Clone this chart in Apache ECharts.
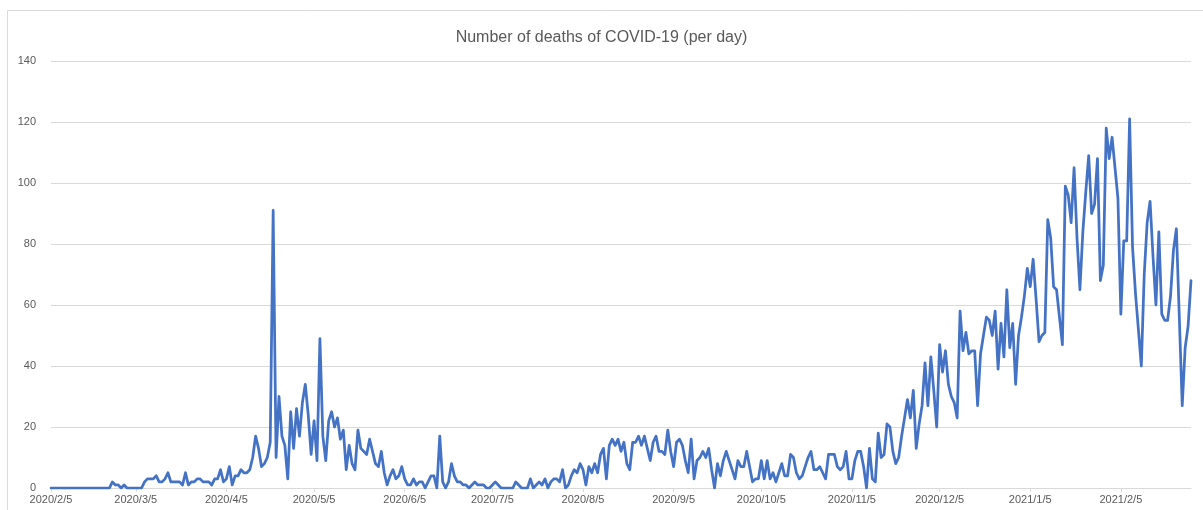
<!DOCTYPE html>
<html>
<head>
<meta charset="utf-8">
<script src="https://cdn.jsdelivr.net/npm/echarts@6/dist/echarts.min.js"></script>
<style>
html,body{margin:0;padding:0;background:#fff;}
#chart{width:1203px;height:510px;}
</style>
</head>
<body>
<div id="chart"></div>
<script>
// Daily values starting 2020/2/5
const startDate = '2020/2/5';
const deaths = [
  0,0,0,0,0,0,0,0,0,0, 0,0,0,0,0,0,0,0,0,0,
  0,2,1,1,0,1,0,0,0,0, 0,0,2,3,3,3,4,2,2,3,
  5,2,2,2,2,1,5,1,2,2, 3,3,2,2,2,1,3,3,6,2,
  3,7,1,4,4,6,5,5,6,10, 17,13,7,8,10,15,91,10,30,17,
  14,3,25,13,26,17,28,34,24,11, 22,9,49,17,9,22,25,20,23,16,
  19,6,14,8,6,19,13,12,11,16, 12,8,7,12,5,1,4,6,3,4,
  7,3,1,1,3,1,2,2,0,2, 4,4,0,17,2,0,2,8,4,2,
  2,1,1,0,1,2,1,1,1,0, 0,1,2,1,0,0,0,0,0,2,
  1,0,0,0,3,0,1,2,1,3, 0,2,3,3,2,6,0,1,4,6,
  5,8,6,1,7,5,8,5,11,13, 3,14,16,14,16,12,15,8,6,15,
  15,17,14,17,13,9,15,17,12,12, 11,19,12,7,15,16,14,9,5,16,
  3,9,10,12,10,13,6,0,8,4, 9,12,9,6,3,9,7,7,12,7,
  2,3,3,9,3,9,3,5,2,5, 8,4,4,11,10,5,3,4,7,10,
  12,6,6,7,5,3,11,11,11,7, 6,7,12,3,3,9,12,12,7,0,
  13,3,2,18,10,11,21,20,12,8, 10,17,23,29,23,32,13,21,27,41,
  27,43,32,20,47,38,45,34,30,28, 23,58,45,51,44,45,45,27,44,50,
  56,55,50,58,39,54,43,65,46,54, 34,50,56,63,72,66,75,62,48,50,
  51,88,82,66,65,56,47,99,96,87, 105,82,65,84,97,109,90,93,108,68,
  73,118,108,115,105,95,57,81,81,121, 79,64,52,40,70,87,94,76,60,84,
  57,55,55,63,78,85,56,27,46,53, 68
];
const yTicks = [0, 20, 40, 60, 80, 100, 120, 140];
const titleText = 'Number of deaths of COVID-19 (per day)';

// build date categories (one per day) from the start date
const categories = [];
(function(){
  const p = startDate.split('/').map(Number);
  const d = new Date(p[0], p[1]-1, p[2]);
  for (let i = 0; i < deaths.length; i++) {
    categories.push(d.getFullYear() + '/' + (d.getMonth()+1) + '/' + d.getDate());
    d.setDate(d.getDate() + 1);
  }
})();

const isFifth = (idx, val) => /\/5$/.test(val);

const chart = echarts.init(document.getElementById('chart'), null, {renderer: 'canvas'});
chart.setOption({
  animation: false,
  backgroundColor: '#ffffff',
  textStyle: {fontFamily: 'Liberation Sans, Arial, sans-serif'},
  title: {
    text: titleText,
    left: 'center',
    top: 25,
    textStyle: {fontSize: 16, fontWeight: 'normal', color: '#595959', fontFamily: 'Liberation Sans, Arial, sans-serif'}
  },
  grid: {left: 51, right: 12, top: 61, bottom: 22, containLabel: false},
  xAxis: {
    type: 'category',
    data: categories,
    boundaryGap: false,
    axisLine: {show: true, lineStyle: {color: '#d9d9d9', width: 1}},
    axisTick: {show: true, interval: isFifth, length: 4, lineStyle: {color: '#d9d9d9'}},
    axisLabel: {interval: isFifth, color: '#595959', fontSize: 11, margin: 6},
    splitLine: {show: false}
  },
  yAxis: {
    type: 'value',
    min: yTicks[0],
    max: yTicks[yTicks.length - 1],
    interval: 20,
    axisLine: {show: false},
    axisTick: {show: false},
    axisLabel: {color: '#595959', fontSize: 11, margin: 15},
    splitLine: {lineStyle: {color: '#d9d9d9', width: 1}}
  },
  graphic: [{
    type: 'rect',
    shape: {x: 7.5, y: 10.5, width: 1300, height: 600},
    style: {fill: 'none', stroke: '#d9d9d9', lineWidth: 1},
    silent: true
  }],
  series: [{
    type: 'line',
    data: deaths,
    showSymbol: false,
    symbol: 'none',
    lineStyle: {color: '#4472C4', width: 2.75, join: 'round', cap: 'round'},
    itemStyle: {color: '#4472C4'}
  }]
});
</script>
</body>
</html>
